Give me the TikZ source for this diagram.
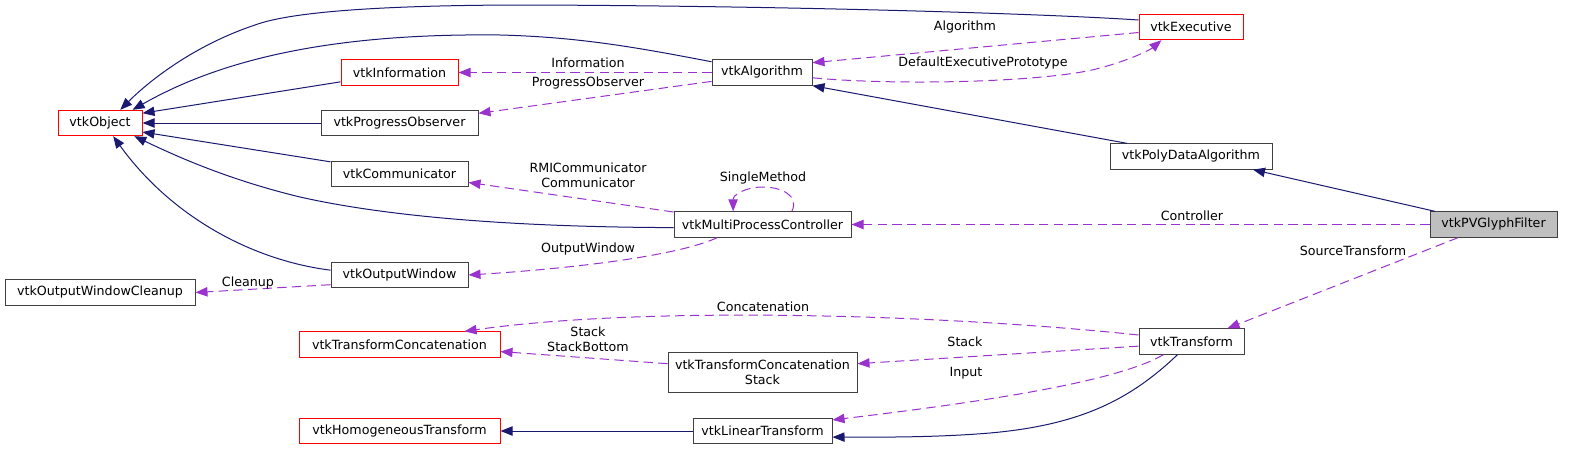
\documentclass[tikz,border=0pt]{standalone}
\usepackage{fontspec}
\setmainfont{DejaVu Sans}
\usetikzlibrary{arrows.meta}
\definecolor{navyc}{HTML}{191970}
\definecolor{orchidc}{HTML}{9A32CD}
\definecolor{boxc}{HTML}{404040}
\begin{document}
\begin{tikzpicture}[x=0.75pt,y=-0.75pt,
  txt/.style={font=\fontsize{9.5pt}{11.25pt}\selectfont},
  cls/.style={txt, draw=boxc, line width=0.75pt, inner sep=0pt, minimum height=19pt, align=center},
  redcls/.style={cls, draw=red},
  lbl/.style={txt, inner sep=0pt, align=center},
  inh/.style={draw=navyc, line width=0.75pt, -{Triangle[length=9pt,width=7pt]}},
  use/.style={draw=orchidc, line width=0.75pt, dash pattern=on 7pt off 4pt, -{Triangle[length=9pt,width=7pt]}}]
\useasboundingbox (0,0) rectangle (1579,450);

% nodes
\node[redcls, minimum width=63pt] (obj) at (100,123) {vtkObject};
\node[redcls, minimum width=87.75pt] (info) at (399.5,72.5) {vtkInformation};
\node[cls, minimum width=117.75pt] (prog) at (399.5,123) {vtkProgressObserver};
\node[cls, minimum width=102.75pt] (comm) at (399.5,174) {vtkCommunicator};
\node[cls, minimum width=75pt] (algo) at (762,72.5) {vtkAlgorithm};
\node[redcls, minimum width=78pt] (exec) at (1191,27) {vtkExecutive};
\node[cls, minimum width=121.5pt] (pd) at (1191,156.5) {vtkPolyDataAlgorithm};
\node[cls, fill={rgb,255:red,191;green,191;blue,191}, minimum width=95.25pt] (pvg) at (1493.5,224.5) {vtkPVGlyphFilter};
\node[cls, minimum width=132.75pt] (mpc) at (762.5,224.5) {vtkMultiProcessController};
\node[cls, minimum width=102.75pt] (ow) at (399.5,275) {vtkOutputWindow};
\node[cls, minimum width=142.5pt] (owc) at (100,292.5) {vtkOutputWindowCleanup};
\node[redcls, minimum width=150.75pt] (tc) at (399.5,344.5) {vtkTransformConcatenation};
\node[redcls, minimum width=150.75pt] (ht) at (399.5,431) {vtkHomogeneousTransform};
\node[cls, minimum width=141.75pt, minimum height=30pt] (tcs) at (762.5,372) {vtkTransformConcatenation\\Stack};
\node[cls, minimum width=104.25pt] (lt) at (762.5,431) {vtkLinearTransform};
\node[cls, minimum width=78.75pt] (tf) at (1191.5,341.5) {vtkTransform};

% inheritance
\draw[inh] ([yshift=5.25pt]exec.west) .. controls (1050,14) and (800,6) .. (530,5)
  .. controls (380,5) and (290,12) .. (255,25) .. controls (195,45) and (150,80) .. (obj.33);
\draw[inh] (algo.168) .. controls (640,48) and (580,37) .. (500,35)
  .. controls (330,33) and (220,60) .. (obj.22);
\draw[inh] (info.189) -- (obj.13);
\draw[inh] (prog.west) -- (obj.east);
\draw[inh] (comm.170) -- (obj.-12);
\draw[inh] (mpc.182) .. controls (500,227) and (380,215) .. (300,197)
  .. controls (230,180) and (180,158) .. (obj.-21.5);
\draw[inh] (ow.176) .. controls (250,260) and (170,215) .. (obj.-45);
\draw[inh] ([xshift=-48pt]pd.north) -- (algo.south east);
\draw[inh] ([xshift=-43.9pt]pvg.north) -- ([xshift=46.5pt]pd.south);
\draw[inh] (lt.west) -- (ht.east);
\draw[inh] ([xshift=-10.5pt]tf.south) .. controls (1130,400) and (1080,425) .. (990,433)
  .. controls (930,438) and (870,437) .. (lt.-5);

% usage
\draw[use] (algo.west) -- (info.east);
\draw[use] (algo.190) -- (prog.7);
\draw[use] (exec.186) -- (algo.11);
\draw[use] (algo.-6) .. controls (900,86) and (1050,82) .. (1100,68)
  .. controls (1130,60) and (1150,50) .. (exec.204);
\draw[use] (mpc.172) -- (comm.-7.5);
\draw[use] ([xshift=22pt]mpc.north) .. controls (800,195) and (780,187) .. (763,187)
  .. controls (745,187) and (733,195) .. ([xshift=-22pt]mpc.north);
\draw[use] (pvg.west) -- (mpc.east);
\draw[use] ([xshift=-34pt]mpc.south) .. controls (680,255) and (580,268) .. (ow.east);
\draw[use] (ow.188) -- (owc.east);
\draw[use] ([xshift=-26.6pt]pvg.south) -- ([xshift=27pt]tf.north);
\draw[use] (tf.173) .. controls (950,315) and (650,305) .. ([xshift=48.75pt]tc.north);
\draw[use] (tf.185) -- (tcs.5);
\draw[use] (tcs.175) -- (tc.-4);
\draw[use] ([xshift=-21pt]tf.south) .. controls (1120,380) and (1000,400) .. (lt.9);

% labels
\node[lbl] (l1) at (588,63) {Information};
\node[lbl] (l2) at (588,83) {ProgressObserver};
\node[lbl] (l3) at (965,27) {Algorithm};
\node[lbl] (l4) at (983,63) {DefaultExecutivePrototype};
\node[lbl] (l5) at (588,175) {RMICommunicator\\Communicator};
\node[lbl] (l6) at (763,178) {SingleMethod};
\node[lbl] (l7) at (1192,216) {Controller};
\node[lbl] (l8) at (588,249) {OutputWindow};
\node[lbl] (l9) at (248,283) {Cleanup};
\node[lbl] (l10) at (1353,251) {SourceTransform};
\node[lbl] (l11) at (763,307) {Concatenation};
\node[lbl] (l12) at (965,342) {Stack};
\node[lbl] (l13) at (588,339) {Stack\\StackBottom};
\node[lbl] (l14) at (966,373) {Input};
\end{tikzpicture}
\end{document}
